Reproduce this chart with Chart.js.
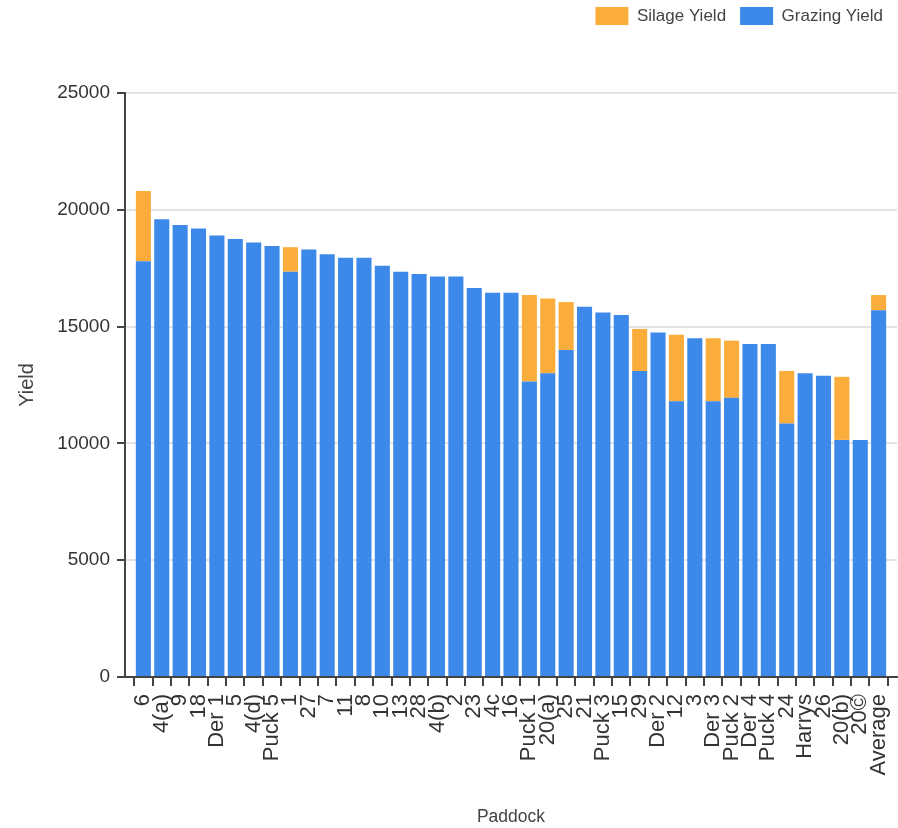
<!DOCTYPE html>
<html>
<head>
<meta charset="utf-8">
<script src="https://cdn.jsdelivr.net/npm/chart.js@4.4.1/dist/chart.umd.min.js"></script>
<style>
  html, body { margin: 0; padding: 0; background: #ffffff; }
  #wrap { width: 898px; height: 828px; }
</style>
</head>
<body>
<div id="wrap"><canvas id="c" width="898" height="828"></canvas></div>
<script>
const categories = ['6','4(a)','9','18','Der 1','5','4(d)','Puck 5','1','27','7','11','8','10','13','28','4(b)','2','23','4c','16','Puck 1','20(a)','25','21','Puck 3','15','29','Der 2','12','3','Der 3','Puck 2','Der 4','Puck 4','24','Harrys','26','20(b)','20©','Average'];

const grazingYield = [17800,19600,19350,19200,18900,18750,18600,18450,17350,18300,18100,17950,17950,17600,17350,17250,17150,17150,16650,16450,16450,12650,13000,14000,15850,15600,15500,13100,14750,11800,14500,11800,11950,14250,14250,10850,13000,12900,10150,10150,15700];

const silageYield = [3000,0,0,0,0,0,0,0,1050,0,0,0,0,0,0,0,0,0,0,0,0,3700,3200,2050,0,0,0,1800,0,2850,0,2700,2450,0,0,2250,0,0,2700,0,650];

const yTicks = [0,5000,10000,15000,20000,25000];

// padded labels/data so there is one empty slot on each side of the bars
const labels = [''].concat(categories, ['']);
const pad = arr => [null].concat(arr, [null]);

const FONT = "'Liberation Sans', Arial, sans-serif";

const legendMargin = {
  id: 'legendMargin',
  beforeInit(chart) {
    const fit = chart.legend.fit;
    chart.legend.fit = function () {
      fit.bind(chart.legend)();
      this.height = 100;
    };
  }
};

new Chart(document.getElementById('c'), {
  type: 'bar',
  data: {
    labels: labels,
    datasets: [
      {
        label: 'Grazing Yield',
        data: pad(grazingYield),
        backgroundColor: '#3d89ea',
        borderWidth: 0,
        categoryPercentage: 1,
        barPercentage: 0.82
      },
      {
        label: 'Silage Yield',
        data: pad(silageYield),
        backgroundColor: '#fbad3c',
        borderWidth: 0,
        categoryPercentage: 1,
        barPercentage: 0.82
      }
    ]
  },
  plugins: [legendMargin],
  options: {
    responsive: false,
    animation: false,
    devicePixelRatio: 1,
    layout: { padding: { left: 0, right: 1, top: -7, bottom: 0 } },
    plugins: {
      tooltip: { enabled: false },
      legend: {
        position: 'top',
        align: 'end',
        reverse: true,
        labels: {
          boxWidth: 33,
          boxHeight: 18,
          padding: 14,
          color: '#444',
          font: { family: FONT, size: 17 }
        }
      }
    },
    scales: {
      x: {
        type: 'category',
        stacked: true,
        offset: false,
        afterFit: s => { s.paddingLeft = 0; s.paddingRight = 0; s.height = 151; },
        grid: {
          display: true,
          drawOnChartArea: false,
          drawTicks: true,
          tickLength: 9,
          tickColor: '#444',
          lineWidth: 2
        },
        border: { display: true, color: '#444', width: 2 },
        ticks: {
          autoSkip: false,
          maxRotation: 90,
          minRotation: 90,
          padding: 8,
          color: '#333',
          font: { family: FONT, size: 22 }
        },
        title: {
          display: true,
          text: 'Paddock',
          color: '#444',
          font: { family: FONT, size: 17.5 },
          padding: { top: 0, bottom: 0 }
        }
      },
      y: {
        stacked: true,
        min: 0,
        max: 25000,
        afterBuildTicks: s => { s.ticks = yTicks.map(v => ({ value: v })); },
        afterFit: s => { s.width = 125; },
        grid: {
          color: '#e3e3e3',
          lineWidth: 2,
          tickLength: 8,
          tickColor: '#444'
        },
        border: { display: true, color: '#444', width: 2 },
        ticks: {
          padding: 7,
          color: '#333',
          font: { family: FONT, size: 19 },
          callback: v => String(v)
        },
        title: {
          display: true,
          text: 'Yield',
          color: '#444',
          font: { family: FONT, size: 20 },
          padding: { top: 15, bottom: 0 }
        }
      }
    }
  }
});
</script>
</body>
</html>
